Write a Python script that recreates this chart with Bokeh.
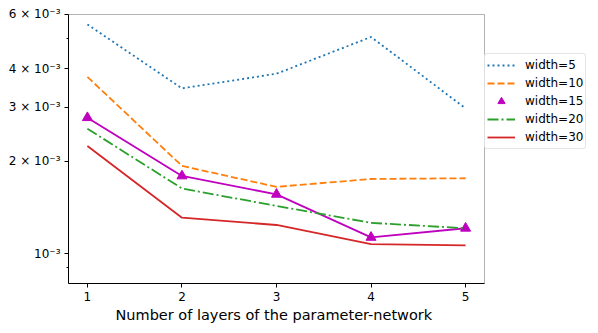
from bokeh.plotting import figure
from bokeh.models import (Legend, LegendItem, FixedTicker, CustomJSTickFormatter, Range1d,
                          BoxAnnotation, Title)
from bokeh.embed import file_html
from bokeh.resources import INLINE

# ---- data ----
layers = [1, 2, 3, 4, 5]
width5 = [5.57e-3, 3.45e-3, 3.85e-3, 5.07e-3, 2.97e-3]
width10 = [3.76e-3, 1.93e-3, 1.65e-3, 1.75e-3, 1.76e-3]
width15 = [2.77e-3, 1.79e-3, 1.56e-3, 1.13e-3, 1.21e-3]
width20 = [2.55e-3, 1.63e-3, 1.43e-3, 1.26e-3, 1.21e-3]
width30 = [2.24e-3, 1.31e-3, 1.24e-3, 1.075e-3, 1.064e-3]
series_labels = ["width=5", "width=10", "width=15", "width=20", "width=30"]
x_ticks = [1, 2, 3, 4, 5]
y_ticks = [1e-3, 2e-3, 3e-3, 4e-3, 6e-3]
y_tick_labels = ["10\u207b\u00b3", "2 \u00d7 10\u207b\u00b3", "3 \u00d7 10\u207b\u00b3",
                 "4 \u00d7 10\u207b\u00b3", "6 \u00d7 10\u207b\u00b3"]
y_minor_ticks = [9e-4, 5e-3]
x_label = "Number of layers of the parameter-network"
x_lim = (0.8, 5.2)
y_lim = (8e-4, 6e-3)

FONT = "DejaVu Sans"

# frame is widened to the right so that the outside legend is not clipped;
# the visible axes box is drawn at the axis limits
p = figure(width=598, height=333, output_backend="svg", toolbar_location=None,
           y_axis_type="log", x_range=Range1d(0.8, 6.3), y_range=Range1d(8e-4, 6.045e-3),
           min_border_left=68, min_border_right=10, min_border_top=13, min_border_bottom=50)
p.grid.visible = False
p.outline_line_color = None
p.background_fill_color = "white"
p.border_fill_color = "white"

box = BoxAnnotation(left=x_lim[0], right=x_lim[1], bottom=y_lim[0], top=y_lim[1],
                    fill_color=None, line_color="black", line_width=1)
p.add_layout(box)

lw = 1.8
r5 = p.line(layers, width5, line_color="#1f77b4", line_width=lw, line_dash="2 3")
r10 = p.line(layers, width10, line_color="#ff7f0e", line_width=lw, line_dash="7 3")
p.line(layers, width15, line_color="#bf00bf", line_width=lw)
r15 = p.scatter(layers, width15, marker="triangle", size=10, fill_color="#bf00bf",
                line_color="#bf00bf")
r20 = p.line(layers, width20, line_color="#2ca02c", line_width=lw, line_dash="11 3 2 3")
r30 = p.line(layers, width30, line_color="#d62728", line_width=lw)

# axes
for ax in (p.xaxis[0], p.yaxis[0]):
    ax.axis_line_color = "black"
    ax.major_tick_line_color = "black"
    ax.minor_tick_line_color = "black"
    ax.major_tick_in = 0
    ax.major_tick_out = 4
    ax.minor_tick_in = 0
    ax.minor_tick_out = 2
    ax.major_label_text_font = FONT
    ax.major_label_text_font_size = "12px"
    ax.major_label_text_color = "black"
    ax.major_label_standoff = 4

p.xaxis[0].bounds = x_lim
p.yaxis[0].bounds = y_lim
p.xaxis[0].ticker = FixedTicker(ticks=x_ticks, minor_ticks=[])
p.yaxis[0].ticker = FixedTicker(ticks=y_ticks, minor_ticks=y_minor_ticks)
p.yaxis[0].formatter = CustomJSTickFormatter(
    args=dict(yvals=y_ticks, ylabs=y_tick_labels),
    code="""
    for (let i = 0; i < yvals.length; i++) {
        if (Math.abs(tick - yvals[i]) < 1e-9) { return ylabs[i]; }
    }
    return "";
    """)

# x-axis label as a below-title, so it is centred on the visible axes box
xlab = Title(text=x_label, align="left", offset=47, standoff=3,
             text_font=FONT, text_font_size="14.5px", text_font_style="normal",
             text_color="black")
p.add_layout(xlab, "below")

items = [LegendItem(label=lab, renderers=[r]) for lab, r in
         zip(series_labels, [r5, r10, r15, r20, r30])]
legend = Legend(items=items, location=(416, 134), orientation="vertical",
                label_text_font=FONT, label_text_font_size="12px", label_text_color="black",
                glyph_width=28, glyph_height=18, label_height=18, label_standoff=10,
                spacing=0, padding=2, margin=0,
                border_line_color="#cccccc", border_line_width=1,
                background_fill_color="white", background_fill_alpha=0.8)
if "border_radius" in Legend.properties():
    legend.border_radius = 3
p.add_layout(legend, "center")

open("out.html", "w").write(file_html(p, INLINE))
